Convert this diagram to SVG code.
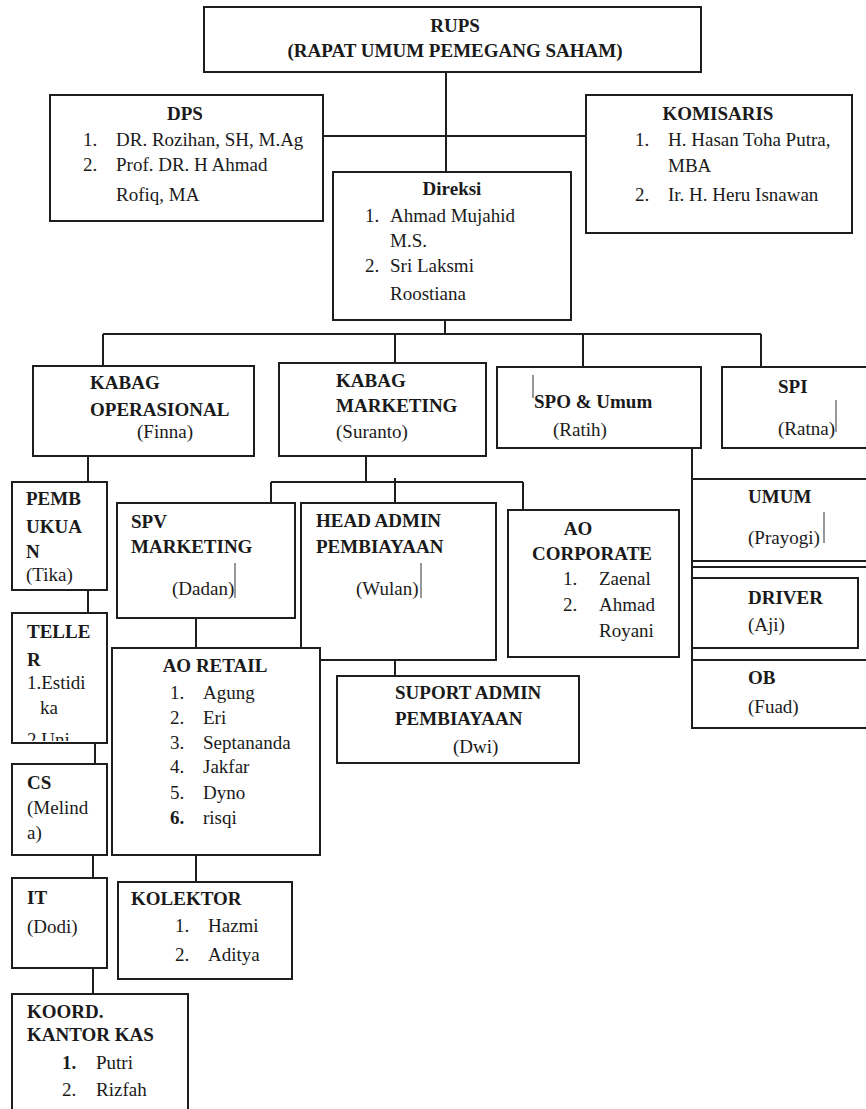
<svg xmlns="http://www.w3.org/2000/svg" width="866" height="1109" viewBox="0 0 866 1109">
<style>
  .box{fill:#fff;stroke:#1e1e1e;stroke-width:2}
  .con{fill:none;stroke:#1e1e1e;stroke-width:2}
  .tick{stroke:#333;stroke-width:1}
  text{font-family:"Liberation Serif","Times New Roman",serif;font-size:19px;fill:#1a1a1a}
  .b{font-weight:bold}
  .m{text-anchor:middle}
</style>
<defs>
  <clipPath id="clipTeller"><rect x="12" y="613" width="95" height="128"/></clipPath>
</defs>
<rect width="866" height="1109" fill="#fff"/>
<g id="connectors">
  <path class="con" d="M446 72V172M323 136H586"/>
  <path class="con" d="M445 320V334M103 334H761M103 334V366M395 334V363M583 334V367M761 334V367"/>
  <path class="con" d="M88 456V482M88 590V613M95 743V764M93 855V878M93 968V994"/>
  <path class="con" d="M366 456V482M271 482H523M271 482V503M395 478V503M523 482V510"/>
  <path class="con" d="M196 618V648M395 660V676M196 855V882"/>
  <path class="con" d="M692 448V728M692 567H866"/>
</g>
<g id="rups">
  <rect class="box" x="204" y="7" width="497" height="65"/>
  <text class="b m" x="455" y="32">RUPS</text>
  <text class="b m" x="455" y="57">(RAPAT UMUM PEMEGANG SAHAM)</text>
</g>
<g id="dps">
  <rect class="box" x="50" y="95" width="273" height="126"/>
  <text class="b m" x="185" y="120">DPS</text>
  <text x="83" y="146">1.</text><text x="116" y="146">DR. Rozihan, SH, M.Ag</text>
  <text x="83" y="171">2.</text><text x="116" y="171">Prof. DR. H Ahmad</text>
  <text x="116" y="201">Rofiq, MA</text>
</g>
<g id="komisaris">
  <rect class="box" x="586" y="95" width="266" height="138"/>
  <text class="b m" x="718" y="120">KOMISARIS</text>
  <text x="635" y="146">1.</text><text x="668" y="146">H. Hasan Toha Putra,</text>
  <text x="668" y="172">MBA</text>
  <text x="635" y="201">2.</text><text x="668" y="201">Ir. H. Heru Isnawan</text>
</g>
<g id="direksi">
  <rect class="box" x="333" y="172" width="238" height="148"/>
  <text class="b m" x="452" y="195">Direksi</text>
  <text x="365" y="222">1.</text><text x="390" y="222">Ahmad Mujahid</text>
  <text x="390" y="247">M.S.</text>
  <text x="365" y="272">2.</text><text x="390" y="272">Sri Laksmi</text>
  <text x="390" y="300">Roostiana</text>
</g>
<g id="kabag-operasional">
  <rect class="box" x="33" y="366" width="221" height="90"/>
  <text class="b" x="90" y="389">KABAG</text>
  <text class="b" x="90" y="416">OPERASIONAL</text>
  <text class="m" x="165" y="438">(Finna)</text>
</g>
<g id="kabag-marketing">
  <rect class="box" x="279" y="363" width="207" height="93"/>
  <text class="b" x="336" y="387">KABAG</text>
  <text class="b" x="336" y="412">MARKETING</text>
  <text x="336" y="438">(Suranto)</text>
</g>
<g id="spo-umum">
  <rect class="box" x="497" y="367" width="204" height="81"/>
  <line class="tick" x1="533" y1="375" x2="533" y2="398"/>
  <text class="b" x="534" y="408">SPO &amp; Umum</text>
  <text x="553" y="436">(Ratih)</text>
</g>
<g id="spi">
  <rect class="box" x="722" y="367" width="150" height="81"/>
  <text class="b" x="778" y="393">SPI</text>
  <text x="778" y="435">(Ratna)</text>
  <line class="tick" x1="836" y1="400" x2="836" y2="432"/>
</g>
<g id="pembukuan">
  <rect class="box" x="12" y="482" width="95" height="108"/>
  <text class="b" x="26" y="505">PEMB</text>
  <text class="b" x="26" y="533">UKUA</text>
  <text class="b" x="26" y="558">N</text>
  <text x="26" y="581">(Tika)</text>
</g>
<g id="teller">
  <rect class="box" x="12" y="613" width="95" height="130"/>
  <g clip-path="url(#clipTeller)">
    <text class="b" x="27" y="638">TELLE</text>
    <text class="b" x="27" y="666">R</text>
    <text x="27" y="689">1.Estidi</text>
    <text x="40" y="714">ka</text>
    <text x="27" y="746">2.Uni</text>
  </g>
</g>
<g id="cs">
  <rect class="box" x="12" y="764" width="95" height="91"/>
  <text class="b" x="27" y="789">CS</text>
  <text x="27" y="814">(Melind</text>
  <text x="27" y="839">a)</text>
</g>
<g id="it">
  <rect class="box" x="12" y="878" width="95" height="90"/>
  <text class="b" x="27" y="904">IT</text>
  <text x="27" y="933">(Dodi)</text>
</g>
<g id="koord-kantor-kas">
  <rect class="box" x="12" y="994" width="176" height="125"/>
  <text class="b" x="27" y="1018">KOORD.</text>
  <text class="b" x="27" y="1041">KANTOR KAS</text>
  <text class="b" x="62" y="1069">1.</text><text x="96" y="1069">Putri</text>
  <text x="62" y="1096">2.</text><text x="96" y="1096">Rizfah</text>
</g>
<g id="spv-marketing">
  <rect class="box" x="117" y="503" width="178" height="115"/>
  <text class="b" x="131" y="528">SPV</text>
  <text class="b" x="131" y="553">MARKETING</text>
  <text x="172" y="595">(Dadan)</text>
  <line class="tick" x1="235" y1="563" x2="235" y2="598"/>
</g>
<g id="head-admin">
  <rect class="box" x="301" y="503" width="195" height="157"/>
  <text class="b" x="316" y="527">HEAD ADMIN</text>
  <text class="b" x="316" y="553">PEMBIAYAAN</text>
  <text x="356" y="595">(Wulan)</text>
  <line class="tick" x1="421" y1="563" x2="421" y2="598"/>
</g>
<g id="ao-corporate">
  <rect class="box" x="508" y="510" width="171" height="147"/>
  <text class="b m" x="578" y="535">AO</text>
  <text class="b m" x="592" y="560">CORPORATE</text>
  <text x="563" y="585">1.</text><text x="599" y="585">Zaenal</text>
  <text x="563" y="611">2.</text><text x="599" y="611">Ahmad</text>
  <text x="599" y="637">Royani</text>
</g>
<g id="ao-retail">
  <rect class="box" x="112" y="648" width="208" height="207"/>
  <text class="b m" x="215" y="672">AO RETAIL</text>
  <text x="170" y="699">1.</text><text x="203" y="699">Agung</text>
  <text x="170" y="724">2.</text><text x="203" y="724">Eri</text>
  <text x="170" y="749">3.</text><text x="203" y="749">Septananda</text>
  <text x="170" y="773">4.</text><text x="203" y="773">Jakfar</text>
  <text x="170" y="799">5.</text><text x="203" y="799">Dyno</text>
  <text class="b" x="170" y="824">6.</text><text x="203" y="824">risqi</text>
</g>
<g id="suport-admin">
  <rect class="box" x="337" y="676" width="242" height="87"/>
  <text class="b" x="395" y="699">SUPORT ADMIN</text>
  <text class="b" x="395" y="725">PEMBIAYAAN</text>
  <text x="453" y="753">(Dwi)</text>
</g>
<g id="kolektor">
  <rect class="box" x="118" y="882" width="174" height="97"/>
  <text class="b" x="131" y="905">KOLEKTOR</text>
  <text x="175" y="932">1.</text><text x="208" y="932">Hazmi</text>
  <text x="175" y="961">2.</text><text x="208" y="961">Aditya</text>
</g>
<g id="umum">
  <rect class="box" x="692" y="479" width="180" height="82"/>
  <text class="b" x="748" y="503">UMUM</text>
  <text x="748" y="544">(Prayogi)</text>
  <line class="tick" x1="824" y1="512" x2="824" y2="543"/>
</g>
<g id="driver">
  <rect class="box" x="692" y="578" width="166" height="70"/>
  <text class="b" x="748" y="604">DRIVER</text>
  <text x="748" y="631">(Aji)</text>
</g>
<g id="ob">
  <rect class="box" x="692" y="660" width="180" height="68"/>
  <text class="b" x="748" y="684">OB</text>
  <text x="748" y="713">(Fuad)</text>
</g>
</svg>
